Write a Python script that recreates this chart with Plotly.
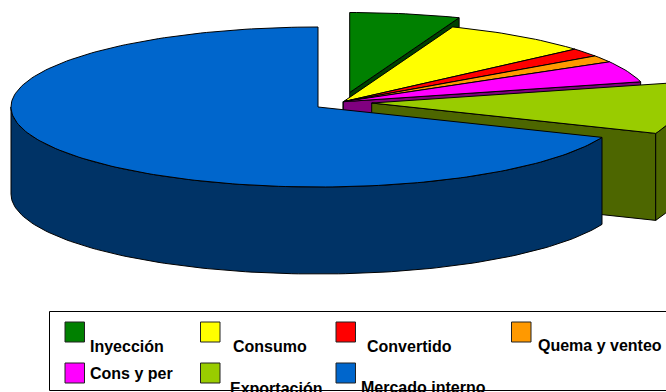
import math
import plotly.graph_objects as go

# Data (percent of total)
labels = ["Inyección", "Consumo", "Convertido", "Quema y venteo", "Cons y per", "Exportación", "Mercado interno"]
values = [5.8, 7.8, 1.7, 1.4, 4.3, 10.2, 68.8]

# Styles
top_colors = ["#008000", "#FFFF00", "#FF0000", "#FF9900", "#FF00FF", "#99CC00", "#0066CC"]
side_colors = ["#004000", "#808000", "#800000", "#804C00", "#800080", "#4D6600", "#003366"]

# Geometry of the tilted pie, in canvas pixels
W, H = 666, 392
RX, RY, DEPTH = 307, 80, 87
apexes = [(349.7, 92.5), (343.3, 101.7), (343.3, 101.7), (343.3, 101.7), (343.3, 101.7), (371.7, 103), (318, 107)]

# Legend layout
legend_text_pos = [(90, 346.5), (233, 346.5), (367, 346.5), (538, 345.5), (90, 373), (230, 388), (361, 387)]
legend_swatch_pos = [(65, 322), (200.5, 322), (336, 322), (511.5, 322), (65, 363), (200.5, 363), (336, 363)]
SW, SH = 19.5, 20


def rim(cx, cy, a0, a1, dy=0, n=72):
    steps = max(2, int(abs(a1 - a0) / 360 * n * 4))
    pts = []
    for i in range(steps + 1):
        a = math.radians(a0 + (a1 - a0) * i / steps)
        pts.append((cx + RX * math.sin(a), cy - RY * math.cos(a) + dy))
    return pts


def poly(fig, pts, color, name):
    pts = pts + [pts[0]]
    fig.add_trace(go.Scatter(
        x=[p[0] for p in pts], y=[p[1] for p in pts],
        mode="lines", fill="toself", fillcolor=color,
        line=dict(color="#000000", width=1), name=name,
        hoverinfo="name", showlegend=False,
    ))


fig = go.Figure()
total = sum(values)
start = 0.0
for label, v, top, side, (cx, cy) in zip(labels, values, top_colors, side_colors, apexes):
    end = start + v / total * 360
    # radial cut face that looks towards the viewer
    if end < 180:
        e = rim(cx, cy, end, end)[0]
        poly(fig, [(cx, cy), e, (e[0], e[1] + DEPTH), (cx, cy + DEPTH)], side, label)
    # outer wall on the front half
    f0, f1 = max(start, 90), min(end, 270)
    if f1 > f0:
        upper = rim(cx, cy, f0, f1)
        lower = rim(cx, cy, f0, f1, DEPTH)
        poly(fig, upper + lower[::-1], side, label)
    # top face
    poly(fig, [(cx, cy)] + rim(cx, cy, start, end), top, label)
    start = end

shapes = [dict(type="rect", x0=49.5, y0=311.5, x1=680, y1=390.5,
               line=dict(color="#000000", width=1), fillcolor="rgba(0,0,0,0)")]
annotations = []
for label, color, (sx, sy), (tx, ty) in zip(labels, top_colors, legend_swatch_pos, legend_text_pos):
    shapes.append(dict(type="rect", x0=sx, y0=sy, x1=sx + SW, y1=sy + SH,
                       fillcolor=color, line=dict(color="#222222", width=1)))
    annotations.append(dict(x=tx, y=ty, text=f"<b>{label}</b>", showarrow=False,
                            xanchor="left", yanchor="middle", borderpad=0, borderwidth=0,
                            font=dict(family="Liberation Sans", size=16, color="#000000")))

fig.update_layout(
    width=W, height=H, margin=dict(l=0, r=0, t=0, b=0),
    paper_bgcolor="#FFFFFF", plot_bgcolor="#FFFFFF",
    xaxis=dict(range=[0, W], visible=False, fixedrange=True),
    yaxis=dict(range=[H, 0], visible=False, fixedrange=True),
    shapes=shapes, annotations=annotations, showlegend=False,
)
fig.write_html("out.html", config=dict(displayModeBar=False),
               post_script="document.body.style.margin='0';document.body.style.overflow='hidden';")
